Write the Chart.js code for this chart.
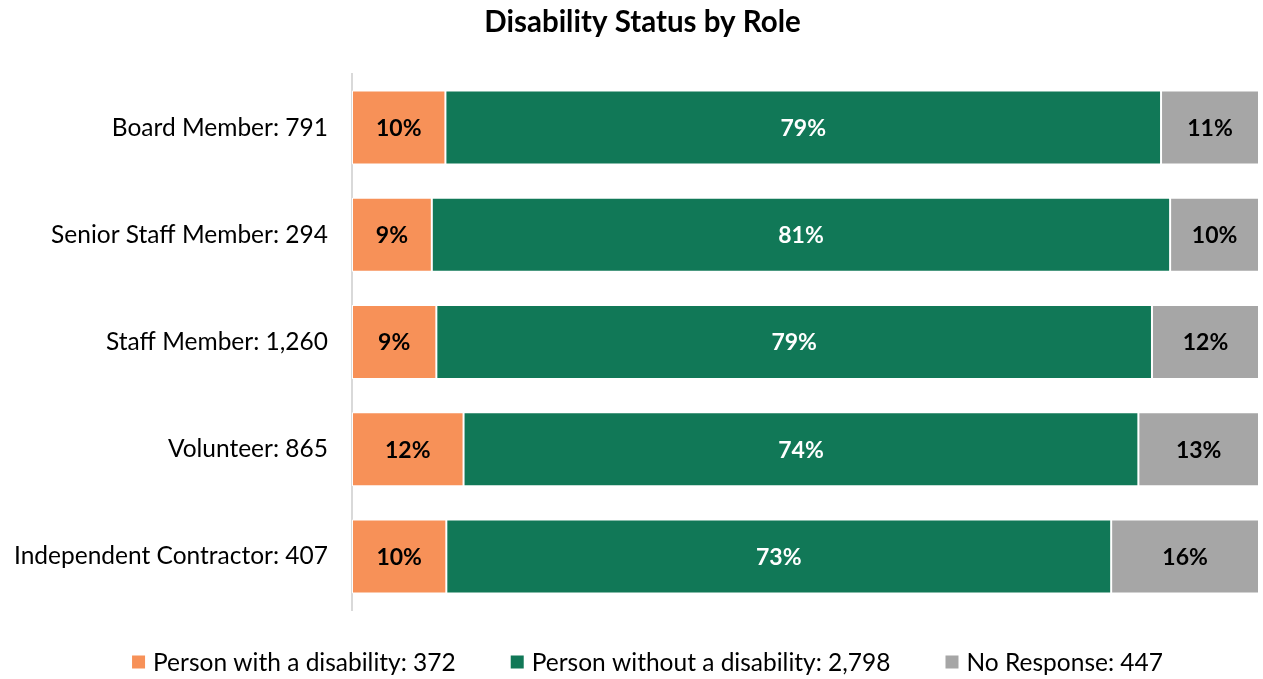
<!DOCTYPE html>
<html>
<head>
<meta charset="utf-8">
<script src="https://cdn.jsdelivr.net/npm/chart.js@4/dist/chart.umd.min.js"></script>
<style>
  html, body { margin: 0; padding: 0; background: #fff; }
  #wrap { width: 1263px; height: 679px; position: relative; }
</style>
</head>
<body>
<div id="wrap"><canvas id="c" width="1263" height="679"></canvas></div>
<script>
const categories = ['Board Member: 791', 'Senior Staff Member: 294', 'Staff Member: 1,260', 'Volunteer: 865', 'Independent Contractor: 407'];
const seriesNames = ['Person with a disability: 372', 'Person without a disability: 2,798', 'No Response: 447'];
const withDisability = [10.3, 8.8, 9.3, 12.3, 10.4];
const withoutDisability = [78.9, 81.4, 78.9, 74.4, 73.3];
const noResponse = [10.8, 9.8, 11.8, 13.3, 16.3];
const chartTitle = 'Disability Status by Role';

const FONT = 'Lato, "Open Sans", sans-serif';
const colors = ['#F79158', '#117857', '#A6A6A6'];
const labelColors = ['#000000', '#FFFFFF', '#000000'];

const dataLabels = {
  id: 'dataLabels',
  afterDatasetsDraw(chart) {
    const ctx = chart.ctx;
    ctx.save();
    ctx.font = 'bold 23px ' + FONT;
    ctx.textAlign = 'center';
    ctx.textBaseline = 'middle';
    chart.data.datasets.forEach((ds, i) => {
      const meta = chart.getDatasetMeta(i);
      meta.data.forEach((el, j) => {
        const v = ds.data[j];
        ctx.fillStyle = labelColors[i];
        ctx.fillText(Math.round(v) + '%', (el.x + el.base) / 2, el.y + 1);
      });
    });
    ctx.restore();
  }
};

const topTitle = {
  id: 'topTitle',
  afterDraw(chart) {
    const ctx = chart.ctx;
    ctx.save();
    ctx.font = 'bold 29.5px ' + FONT;
    ctx.textAlign = 'center';
    ctx.textBaseline = 'middle';
    ctx.fillStyle = '#000';
    ctx.fillText(chartTitle, chart.width / 2 + 11, 22.7);
    ctx.restore();
  }
};

const bottomLegend = {
  id: 'bottomLegend',
  afterDraw(chart) {
    const ctx = chart.ctx;
    ctx.save();
    ctx.font = '24.5px ' + FONT;
    ctx.textBaseline = 'middle';
    const box = 13, gapText = 8, gapItem = 55;
    const items = chart.data.datasets.map(ds => ({ text: ds.label, color: ds.backgroundColor, w: ctx.measureText(ds.label).width }));
    const total = items.reduce((s, it) => s + box + gapText + it.w, 0) + gapItem * (items.length - 1);
    let x = (chart.width - total) / 2 + 16;
    const y = 662;
    items.forEach(it => {
      ctx.fillStyle = it.color;
      ctx.fillRect(x, y - box / 2, box, box);
      ctx.fillStyle = '#000';
      ctx.textAlign = 'left';
      ctx.fillText(it.text, x + box + gapText, y + 1);
      x += box + gapText + it.w + gapItem;
    });
    ctx.restore();
  }
};

const mk = (label, data, i) => ({
  label, data,
  backgroundColor: colors[i],
  borderColor: '#FFFFFF',
  borderWidth: 1,
  borderSkipped: false,
  categoryPercentage: 1,
  barPercentage: 0.69
});

new Chart(document.getElementById('c'), {
  type: 'bar',
  data: {
    labels: categories,
    datasets: [
      mk(seriesNames[0], withDisability, 0),
      mk(seriesNames[1], withoutDisability, 1),
      mk(seriesNames[2], noResponse, 2)
    ]
  },
  options: {
    indexAxis: 'y',
    responsive: false,
    animation: false,
    layout: { padding: { left: 0, right: 4, top: 74, bottom: 69 } },
    plugins: {
      legend: { display: false },
      tooltip: { enabled: false },
      title: { display: false }
    },
    scales: {
      x: {
        stacked: true,
        min: 0, max: 100,
        display: false
      },
      y: {
        stacked: true,
        grid: { display: false, drawTicks: false },
        border: { display: true, color: '#D9D9D9', width: 2 },
        ticks: { color: '#000', font: { family: FONT, size: 24.5 }, padding: 24 },
        afterFit(scale) { scale.width = 352; }
      }
    }
  },
  plugins: [dataLabels, topTitle, bottomLegend]
});
</script>
</body>
</html>
